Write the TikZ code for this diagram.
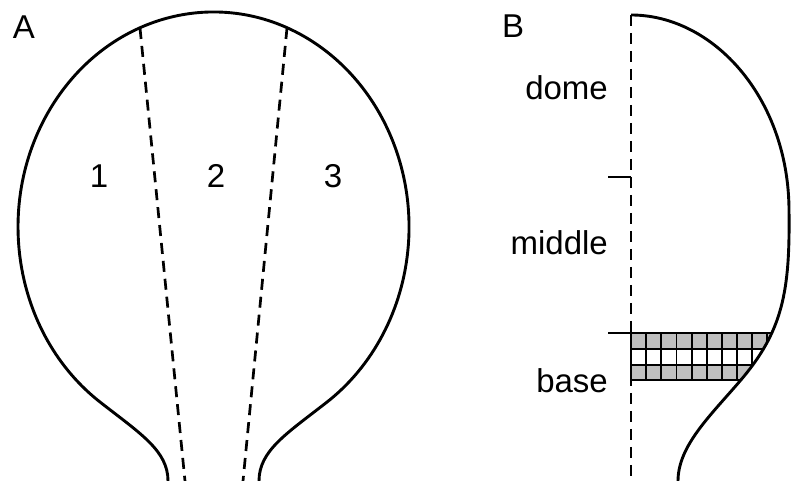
\documentclass[tikz,border=0pt]{standalone}
\usepackage{fontspec}
\setmainfont{Liberation Sans}
\begin{document}
\begin{tikzpicture}[x=1pt,y=1pt,
  outline/.style={line width=2.9pt, line join=round},
  divider/.style={line width=2.7pt, dash pattern=on 11pt off 7pt},
  tick/.style={line width=2.6pt},
  lbl/.style={font=\fontsize{33}{40}\selectfont, inner sep=0pt},
  gridline/.style={line width=1.9pt},
  cellfill/.style={fill=black!25}]
\useasboundingbox (0,0) rectangle (791,481);
\begin{scope}
\clip (0,0) rectangle (791,481);
% ---------- Panel A ----------
\coordinate (nl) at (168,0);
\coordinate (nr) at (259,0);
\draw[outline] (nl) .. controls (168,30) and (141,47) .. (101.4,77.9)
  arc[start angle=235, end angle=-55, x radius=195.5, y radius=215]
  .. controls (286,47) and (259,30) .. (nr);
\coordinate (d1t) at (140,453); \coordinate (d1b) at (185,0);
\coordinate (d2t) at (287,453); \coordinate (d2b) at (243,0);
\draw[divider] (d1t) -- (d1b);
\draw[divider] (d2t) -- (d2b);
\node[lbl, anchor=base] (lA) at (24,442) {A};
\node[lbl, anchor=base] (s1) at (99,293) {1};
\node[lbl, anchor=base] (s2) at (216,293) {2};
\node[lbl, anchor=base] (s3) at (333,293) {3};
% ---------- Panel B ----------
\begin{scope}
\clip (631,466) .. controls (714,466) and (789,382) .. (789,270)
  .. controls (790,190) and (783,150) .. (740,100)
  .. controls (710,65) and (678,35) .. (678,0) -- (631,0) -- cycle;
\fill[cellfill] (631,132.2) rectangle (800,148);
\fill[cellfill] (631,100.6) rectangle (800,116.4);
\foreach \yy in {148,132.2,116.4,100.6}
  \draw[gridline] (631,\yy) -- (800,\yy);
\foreach \k in {1,...,11}
  \draw[gridline] ({631+15.15*\k},100.6) -- ({631+15.15*\k},148);
\end{scope}
\coordinate (gl1) at (631,148); \coordinate (gl2) at (631,100.6);
\draw[gridline] (gl1) -- (gl2);
\coordinate (axt) at (631,466); \coordinate (axb) at (631,0);
\draw[divider] (axt) -- (axb);
\coordinate (bb) at (678,0);
\draw[outline] (axt) .. controls (714,466) and (789,382) .. (789,270)
  .. controls (790,190) and (783,150) .. (740,100)
  .. controls (710,65) and (678,35) .. (bb);
\coordinate (t1a) at (608,304); \coordinate (t1b) at (631,304);
\coordinate (t2a) at (608,148); \coordinate (t2b) at (631,148);
\draw[tick] (t1a) -- (t1b);
\draw[tick] (t2a) -- (t2b);
\node[lbl, anchor=base] (lB) at (513,443) {B};
\node[lbl, anchor=base east] (dome) at (608,381) {dome};
\node[lbl, anchor=base east] (middle) at (608,226) {middle};
\node[lbl, anchor=base east] (base) at (608,88) {base};
\end{scope}
\end{tikzpicture}
\end{document}
